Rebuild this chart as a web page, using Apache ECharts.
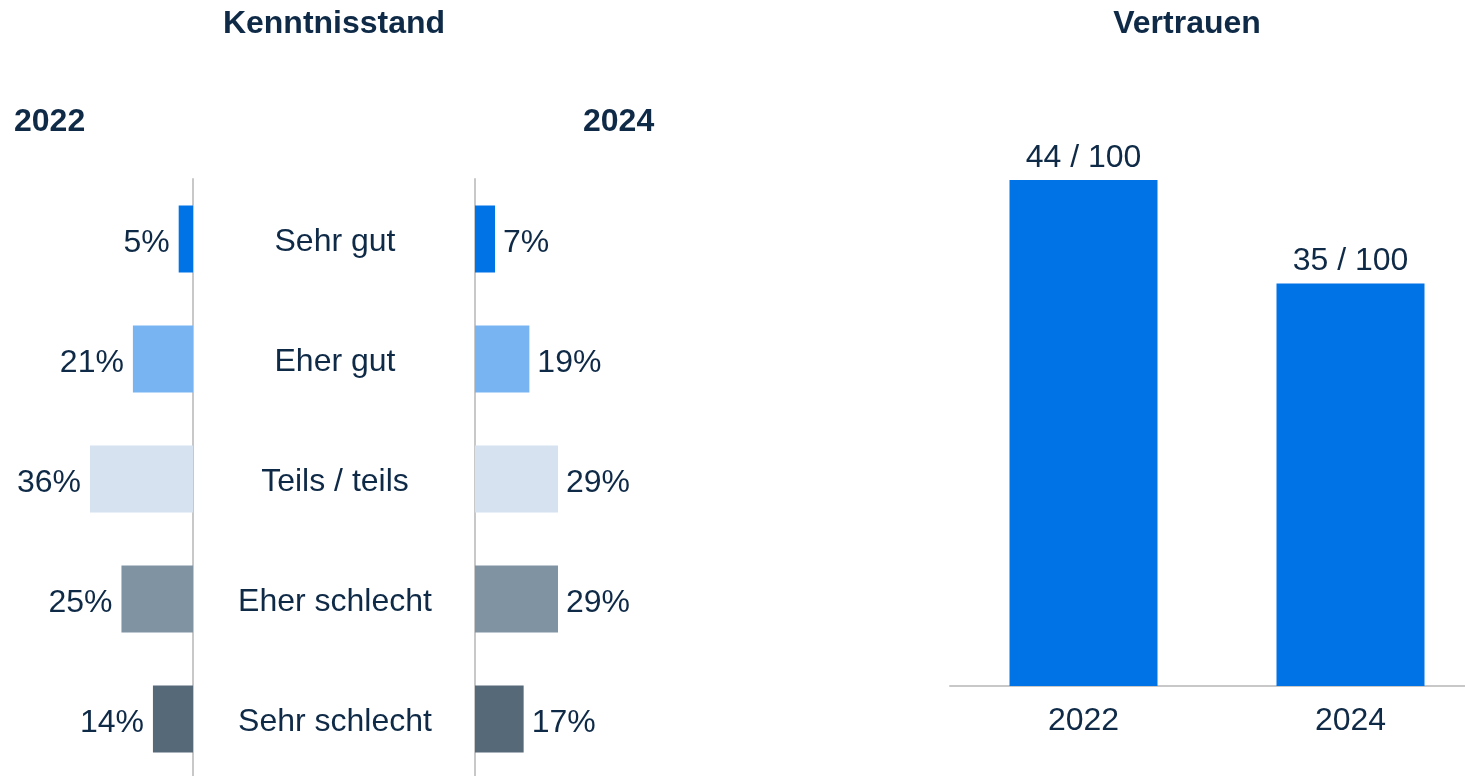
<!DOCTYPE html>
<html>
<head>
<meta charset="utf-8">
<script src="https://cdn.jsdelivr.net/npm/echarts@6/dist/echarts.min.js"></script>
<style>html,body{margin:0;padding:0;background:#fff;}#c{width:1465px;height:776px;}</style>
</head>
<body>
<div id="c"></div>
<script>
const categories = ['Sehr gut', 'Eher gut', 'Teils / teils', 'Eher schlecht', 'Sehr schlecht'];
const values2022 = [5, 21, 36, 25, 14];
const values2024 = [7, 19, 29, 29, 17];
const barColors = ['#0073e6', '#78b4f2', '#d6e2ef', '#7f93a3', '#566978'];
const trustYears = ['2022', '2024'];
const trustValues = [44, 35];

const TXT = '#0f2a47';
const FONT = 'Liberation Sans, Arial, sans-serif';
const FS = 32;

const chart = echarts.init(document.getElementById('c'));
const mk = (vals) => vals.map((v, i) => ({ value: v, itemStyle: { color: barColors[i] } }));

chart.setOption({
  animation: false,
  textStyle: { fontFamily: FONT },
  title: [
    { text: 'Kenntnisstand', left: 334, top: 8, padding: 0, textAlign: 'center',
      textStyle: { fontFamily: FONT, fontSize: FS, fontWeight: 'bold', color: TXT } },
    { text: 'Vertrauen', left: 1187, top: 8, padding: 0, textAlign: 'center',
      textStyle: { fontFamily: FONT, fontSize: FS, fontWeight: 'bold', color: TXT } },
    { text: '2022', left: 14, top: 106, padding: 0,
      textStyle: { fontFamily: FONT, fontSize: FS, fontWeight: 'bold', color: TXT } },
    { text: '2024', left: 583, top: 106, padding: 0,
      textStyle: { fontFamily: FONT, fontSize: FS, fontWeight: 'bold', color: TXT } }
  ],
  grid: [
    { left: 21.3, width: 171.7, top: 179, height: 600, outerBoundsMode: 'none' },
    { left: 475, width: 171.7, top: 179, height: 600, outerBoundsMode: 'none' },
    { left: 950, width: 534, top: 180, bottom: 90, outerBoundsMode: 'none' }
  ],
  xAxis: [
    { type: 'value', gridIndex: 0, min: 0, max: 60, inverse: true, show: false },
    { type: 'value', gridIndex: 1, min: 0, max: 60, show: false },
    { type: 'category', gridIndex: 2, data: trustYears,
      axisLine: { show: true, lineStyle: { color: '#c8c8c8', width: 2 } },
      axisTick: { show: false },
      axisLabel: { fontFamily: FONT, fontSize: FS, color: TXT, margin: 19 } }
  ],
  yAxis: [
    { type: 'category', gridIndex: 0, data: categories, inverse: true, position: 'right',
      axisLine: { show: true, lineStyle: { color: '#c8c8c8', width: 2 } },
      axisTick: { show: false }, axisLabel: { show: false } },
    { type: 'category', gridIndex: 1, data: categories, inverse: true, position: 'left',
      axisLine: { show: true, lineStyle: { color: '#c8c8c8', width: 2 } },
      axisTick: { show: false },
      axisLabel: { show: true, align: 'center', verticalAlign: 'top', lineHeight: 7, margin: 140, fontFamily: FONT, fontSize: FS, color: TXT } },
    { type: 'value', gridIndex: 2, min: 0, max: 44, show: false }
  ],
  series: [
    { type: 'bar', xAxisIndex: 0, yAxisIndex: 0, data: mk(values2022), barWidth: '56%',
      label: { show: true, position: 'left', distance: 9, offset: [0, 4], formatter: '{c}%', fontFamily: FONT, fontSize: FS, color: TXT } },
    { type: 'bar', xAxisIndex: 1, yAxisIndex: 1, data: mk(values2024), barWidth: '56%',
      label: { show: true, position: 'right', distance: 8, offset: [0, 4], formatter: '{c}%', fontFamily: FONT, fontSize: FS, color: TXT } },
    { type: 'bar', xAxisIndex: 2, yAxisIndex: 2, data: trustValues, barWidth: 148,
      itemStyle: { color: '#0073e6' },
      label: { show: true, position: 'top', distance: 6, formatter: '{c} / 100', fontFamily: FONT, fontSize: FS, color: TXT } }
  ]
});
</script>
</body>
</html>
